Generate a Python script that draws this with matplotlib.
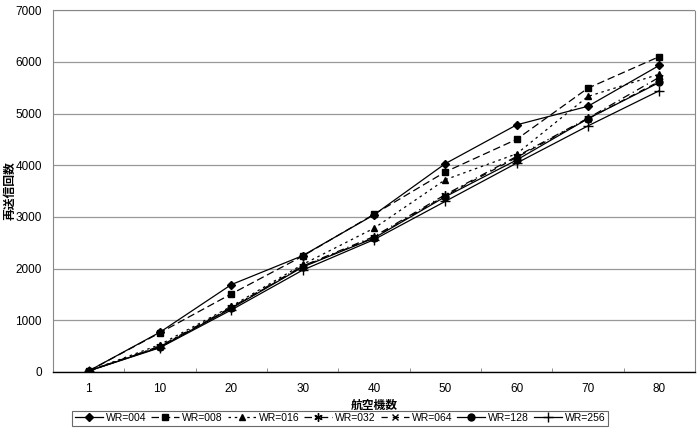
import numpy as np
import matplotlib.pyplot as plt
import matplotlib as mpl

mpl.rcParams['font.family'] = ['Liberation Sans', 'Noto Sans CJK JP', 'DejaVu Sans']

categories = ['1', '10', '20', '30', '40', '50', '60', '70', '80']
wr004 = [20, 770, 1690, 2250, 3040, 4030, 4780, 5140, 5930]
wr008 = [20, 760, 1510, 2240, 3050, 3870, 4500, 5490, 6100]
wr016 = [20, 530, 1270, 2080, 2780, 3720, 4220, 5330, 5760]
wr032 = [20, 500, 1250, 2050, 2620, 3430, 4170, 4910, 5700]
wr064 = [20, 490, 1240, 2040, 2600, 3410, 4150, 4900, 5620]
wr128 = [20, 480, 1230, 2030, 2590, 3390, 4100, 4900, 5600]
wr256 = [20, 470, 1200, 1970, 2560, 3300, 4040, 4760, 5440]
labels = ['WR=004', 'WR=008', 'WR=016', 'WR=032', 'WR=064', 'WR=128', 'WR=256']

series = [wr004, wr008, wr016, wr032, wr064, wr128, wr256]
markers = ['D', 's', '^', (6, 2, 0), 'x', 'o', '+']
styles = ['-', (0, (6, 3)), (0, (2, 3)), (0, (6, 3, 1, 3)), (0, (5, 4)), '-', '-']
msizes = [4, 5, 5, 6, 5, 5, 7]

fig = plt.figure(figsize=(7, 4.36), dpi=100)
ax = fig.add_axes([0.0757, 0.1468, 0.917, 0.83])

x = np.arange(len(categories))
for vals, lab, m, ls, ms in zip(series, labels, markers, styles, msizes):
    ax.plot(x, vals, color='black', linestyle=ls, linewidth=0.9, marker=m,
            markersize=ms, markeredgewidth=1.0, label=lab)

ax.set_xlim(-0.5, len(categories) - 0.5)
ax.set_ylim(0, 7000)
ax.set_yticks(np.arange(0, 7001, 1000))
ax.set_xticks(x)
ax.set_xticklabels(categories)
ax.set_xticks(np.arange(0.5, len(categories) - 1, 1), minor=True)
ax.tick_params(axis='y', length=0, labelsize=8.5, pad=8)
ax.tick_params(axis='x', which='major', length=0, labelsize=8.5, pad=8)
ax.tick_params(axis='x', which='minor', length=3, direction='in', color='gray')
ax.grid(axis='y', color='#999999', linewidth=0.9)
ax.set_axisbelow(True)
for s in ['top', 'right', 'left']:
    ax.spines[s].set_color('#888888')
    ax.spines[s].set_linestyle((0, (1, 1)))
    ax.spines[s].set_linewidth(0.8)
ax.spines['bottom'].set_color('black')
ax.spines['bottom'].set_linewidth(1.0)

ax.set_xlabel('航空機数', fontsize=8.5, fontweight='bold')
ax.set_ylabel('再送信回数', fontsize=8.5, fontweight='bold')
ax.xaxis.set_label_coords(0.5, -0.077)
ax.yaxis.set_label_coords(-0.057, 0.5)

leg = fig.legend(loc='center', bbox_to_anchor=(0.486, 0.041), ncol=7, fontsize=7.5,
                 frameon=True, fancybox=False, edgecolor='#444444', handlelength=2.7,
                 handletextpad=0.3, columnspacing=0.45, borderpad=0.25)
leg.get_frame().set_linewidth(0.8)

fig.savefig('out.png', dpi=100)
